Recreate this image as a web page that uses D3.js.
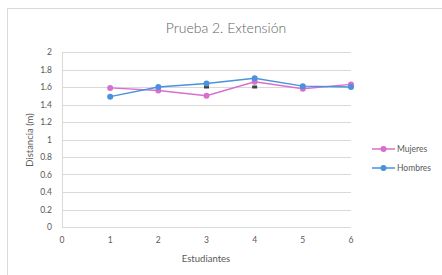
<!DOCTYPE html>
<html>
<head>
<meta charset="utf-8">
<script src="https://cdn.jsdelivr.net/npm/d3@7"></script>
<style>
  body { margin: 0; background: #fff; }
  text { font-family: Lato, "Open Sans", sans-serif; fill: #595959; }
</style>
</head>
<body>
<svg id="chart"></svg>
<script>
// data
const students = [1, 2, 3, 4, 5, 6];
const mujeres = [1.59, 1.56, 1.50, 1.66, 1.58, 1.63];
const hombres = [1.49, 1.60, 1.64, 1.70, 1.61, 1.60];
// the small dark marks sitting at x = 3 and x = 4
const extraX = [3, 4];
const extraY = [1.60, 1.60];
const xTicks = [0, 1, 2, 3, 4, 5, 6];
const yTicks = [0, 0.2, 0.4, 0.6, 0.8, 1, 1.2, 1.4, 1.6, 1.8, 2];

const width = 442, height = 275;
const svg = d3.select("#chart").attr("width", width).attr("height", height);

// chart frame (cut off at right/bottom like the screenshot)
svg.append("path")
    .attr("d", "M7.5,275 V8.5 H442")
    .attr("fill", "none")
    .attr("stroke", "#d9d9d9");

svg.append("text")
    .attr("x", 226).attr("y", 33)
    .attr("text-anchor", "middle")
    .style("font-size", "14px")
    .style("font-weight", 300)
    .style("fill", "#606060")
    .text("Prueba 2. Extensión");

let x = d3.scaleLinear().domain([0, 6]).range([62, 351]);
let y = d3.scaleLinear().domain([0, 2]).range([227, 52]);

// gridlines
svg.append("g")
    .selectAll("line")
    .data(yTicks)
    .enter().append("line")
    .attr("x1", x(0)).attr("x2", x(6))
    .attr("y1", d => Math.round(y(d)) + 0.5)
    .attr("y2", d => Math.round(y(d)) + 0.5)
    .attr("stroke", "#d9d9d9");

// left axis line
svg.append("line")
    .attr("x1", x(0) + 0.5).attr("x2", x(0) + 0.5)
    .attr("y1", y(2)).attr("y2", y(0))
    .attr("stroke", "#d9d9d9");

// y tick labels
svg.append("g")
    .selectAll("text")
    .data(yTicks)
    .enter().append("text")
    .attr("x", 52).attr("y", d => y(d) + 3)
    .attr("text-anchor", "end")
    .style("font-size", "8.5px")
    .text(d => d3.format("~g")(d));

// x tick labels
svg.append("g")
    .selectAll("text")
    .data(xTicks)
    .enter().append("text")
    .attr("x", d => x(d)).attr("y", 243)
    .attr("text-anchor", "middle")
    .style("font-size", "8.5px")
    .text(d => d);

svg.append("text")
    .attr("x", 206).attr("y", 262)
    .attr("text-anchor", "middle")
    .style("font-size", "9.5px")
    .text("Estudiantes");

svg.append("text")
    .attr("transform", "translate(33,140) rotate(-90)")
    .attr("text-anchor", "middle")
    .style("font-size", "9.5px")
    .text("Distancia (m)");

// stray dark markers
svg.append("g")
    .selectAll("rect")
    .data(extraX.map((d, i) => [d, extraY[i]]))
    .enter().append("rect")
    .attr("x", d => x(d[0]) - 2.5).attr("y", d => y(d[1]) - 1.5)
    .attr("width", 5).attr("height", 3)
    .attr("fill", "#404040");

const series = [
    { name: "Mujeres", values: mujeres, color: "#d76fd1" },
    { name: "Hombres", values: hombres, color: "#4a92dc" }
];

let line = d3.line().x((d, i) => x(students[i])).y(d => y(d));

series.forEach(s => {
    svg.append("path")
        .datum(s.values)
        .attr("d", line)
        .attr("fill", "none")
        .attr("stroke", s.color)
        .attr("stroke-width", 1.5);
    svg.append("g")
        .selectAll("circle")
        .data(s.values)
        .enter().append("circle")
        .attr("cx", (d, i) => x(students[i]))
        .attr("cy", d => y(d))
        .attr("r", 3)
        .attr("fill", s.color);
});

// legend
let legend = svg.append("g")
    .selectAll("g")
    .data(series)
    .enter().append("g")
    .attr("transform", (d, i) => `translate(372,${149 + i * 19})`);
legend.append("line")
    .attr("x1", 0).attr("x2", 23)
    .attr("stroke", d => d.color).attr("stroke-width", 1.5);
legend.append("circle")
    .attr("cx", 11.5).attr("r", 3)
    .attr("fill", d => d.color);
legend.append("text")
    .attr("x", 25).attr("y", 3)
    .style("font-size", "8.5px")
    .text(d => d.name);
</script>
</body>
</html>
